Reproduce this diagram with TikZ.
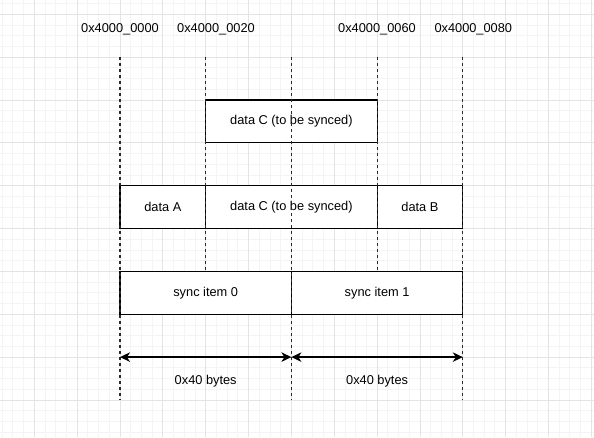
\documentclass[tikz,border=0pt]{standalone}
\usepackage{fontspec}
\setmainfont{Liberation Sans}
\usetikzlibrary{arrows.meta}
\definecolor{gridminor}{HTML}{F4F4F4}
\definecolor{gridmajor}{HTML}{E4E4E4}
\definecolor{guide}{HTML}{2A2A2A}
\tikzset{
  txt/.style={font=\fontsize{12.8}{15}\selectfont, text=black, inner sep=0pt},
  membox/.style={draw=black, fill=white, line width=1.1pt, minimum height=42.85pt, inner sep=0pt, outer sep=0pt, anchor=north west, font=\fontsize{12.8}{15}\selectfont},
  guideline/.style={draw=guide, line width=1.1pt, dash pattern=on 3pt off 3pt},
  sizearrow/.style={draw=black, line width=1.3pt, {Stealth[length=10pt,width=9.5pt,inset=3pt]}-{Stealth[length=10pt,width=9.5pt,inset=3pt]}}
}
\begin{document}
\begin{tikzpicture}[x=1pt,y=-1pt]
\useasboundingbox (0,0) rectangle (594,437);
\fill[white] (0,0) rectangle (594,437);
% grid
\foreach \i in {0,...,55} {\draw[gridminor, line width=0.9pt] (2.1625+\i*10.7125,0) -- (2.1625+\i*10.7125,437);}
\foreach \i in {0,...,41} {\draw[gridminor, line width=0.9pt] (0,3.62+\i*10.7125) -- (594,3.62+\i*10.7125);}
\foreach \i in {0,...,13} {\draw[gridmajor, line width=0.9pt] (34.3+\i*42.85,0) -- (34.3+\i*42.85,437);}
\foreach \i in {0,...,10} {\draw[gridmajor, line width=0.9pt] (0,14.33+\i*42.85) -- (594,14.33+\i*42.85);}

% boxes
\node[membox, minimum width=171.4pt] (ctop) at (205.7,100.0) {data C (to be synced)};
\node[membox, minimum width=85.7pt] (da) at (120,185.7) {data A};
\node[membox, minimum width=171.4pt] (dc) at (205.7,185.7) {data C (to be synced)};
\node[membox, minimum width=85.7pt] (db) at (377.1,185.7) {data B};
\node[membox, minimum width=171.4pt] (s0) at (120,271.4) {sync item 0};
\node[membox, minimum width=171.4pt] (s1) at (291.4,271.4) {sync item 1};

% guide coordinates
\coordinate (g0t) at (120,57.2);   \coordinate (g0b) at (120,400);
\coordinate (g1t) at (205.7,57.2); \coordinate (g1b) at (205.7,271.4);
\coordinate (g2t) at (291.4,57.2); \coordinate (g2b) at (291.4,400);
\coordinate (g3t) at (377.1,57.2); \coordinate (g3b) at (377.1,271.4);
\coordinate (g4t) at (462.8,57.2); \coordinate (g4b) at (462.8,400);
\draw[guideline] (g0t) -- (g0b);
\draw[guideline] (g1t) -- (g1b);
\draw[guideline] (g2t) -- (g2b);
\draw[guideline] (g3t) -- (g3b);
\draw[guideline] (g4t) -- (g4b);

% address labels
\node[txt] (a0) at (120,29) {0x4000\_0000};
\node[txt] (a1) at (216,29) {0x4000\_0020};
\node[txt] (a2) at (377,29) {0x4000\_0060};
\node[txt] (a3) at (473.3,29) {0x4000\_0080};

% size arrows
\coordinate (m0) at (120,357.1);
\coordinate (m1) at (291.4,357.1);
\coordinate (m2) at (462.8,357.1);
\draw[sizearrow] (m0) -- (m1);
\draw[sizearrow] (m1) -- (m2);
\node[txt] (l0) at (205.7,380.7) {0x40 bytes};
\node[txt] (l1) at (377.1,380.7) {0x40 bytes};
\end{tikzpicture}
\end{document}
